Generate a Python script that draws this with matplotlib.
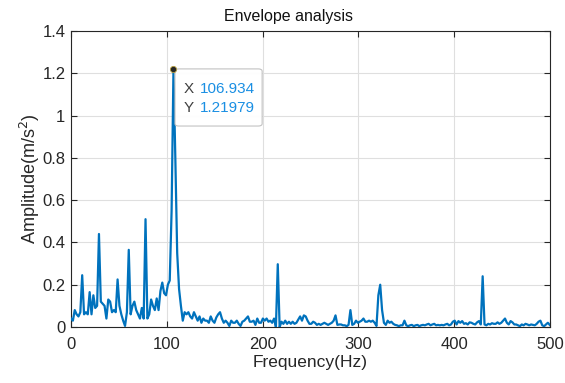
import numpy as np
import matplotlib
matplotlib.use("Agg")
import matplotlib.pyplot as plt
from matplotlib.patches import FancyBboxPatch

plt.rcParams['font.family'] = ['Liberation Sans', 'DejaVu Sans']

# ── Data ─────────────────────────────────────────────────────────────────────
PEAK_F   = 106.934
PEAK_A   = 1.21979
DF       = PEAK_F / 55          # spectral resolution, peak sits on bin 55

amplitude = [
    # 0 - 100 Hz
    0.04, 0.03, 0.08, 0.06, 0.05, 0.07, 0.245, 0.06, 0.07, 0.06,
    0.165, 0.06, 0.15, 0.09, 0.10, 0.44, 0.12, 0.11, 0.10, 0.04,
    0.13, 0.12, 0.07, 0.08, 0.07, 0.225, 0.10, 0.06, 0.03, 0.005,
    0.07, 0.365, 0.06, 0.10, 0.12, 0.08, 0.06, 0.04, 0.09, 0.04,
    0.51, 0.04, 0.06, 0.13, 0.10, 0.08, 0.135, 0.08, 0.17, 0.21,
    0.16, 0.15, 0.20, 0.22, 0.55, PEAK_A, 0.80, 0.35, 0.18, 0.10,
    # 117 - 200 Hz
    0.03, 0.07, 0.06, 0.07, 0.05, 0.04, 0.07, 0.05, 0.03, 0.05,
    0.02, 0.04, 0.03, 0.03, 0.02, 0.05, 0.03, 0.02, 0.045, 0.06,
    0.07, 0.04, 0.02, 0.03, 0.02, 0.005, 0.03, 0.02, 0.02, 0.03,
    0.015, 0.005, 0.025, 0.03, 0.04, 0.05, 0.025, 0.025, 0.03, 0.01,
    0.04, 0.02,
    # 198 - 296 Hz
    0.02, 0.04, 0.03, 0.04, 0.025, 0.03, 0.02, 0.04, 0.0, 0.297,
    0.0, 0.025, 0.015, 0.03, 0.015, 0.025, 0.015, 0.025, 0.015, 0.02,
    0.035, 0.05, 0.03, 0.055, 0.05, 0.03, 0.015, 0.015, 0.025, 0.02,
    0.01, 0.015, 0.01, 0.015, 0.02, 0.015, 0.01, 0.015, 0.02, 0.03,
    0.055, 0.01, 0.012, 0.012, 0.008, 0.008, 0.004, 0.01, 0.08, 0.01,
    0.015,
    # 297 - 395 Hz
    0.03, 0.02, 0.025, 0.03, 0.04, 0.025, 0.025, 0.03, 0.025, 0.03,
    0.02, 0.005, 0.15, 0.20, 0.08, 0.02, 0.01, 0.03, 0.02, 0.025,
    0.015, 0.01, 0.008, 0.004, 0.008, 0.008, 0.03, 0.008, 0.004, 0.008,
    0.01, 0.004, 0.008, 0.01, 0.004, 0.008, 0.01, 0.008, 0.012, 0.015,
    0.008, 0.012, 0.015, 0.008, 0.01, 0.008, 0.01, 0.008, 0.012, 0.015,
    0.008,
    # 397 - 500 Hz
    0.012, 0.025, 0.03, 0.012, 0.028, 0.02, 0.028, 0.015, 0.018, 0.012,
    0.022, 0.02, 0.015, 0.012, 0.022, 0.028, 0.012, 0.24, 0.012, 0.008,
    0.015, 0.012, 0.018, 0.015, 0.015, 0.022, 0.015, 0.02, 0.03, 0.04,
    0.02, 0.012, 0.028, 0.022, 0.012, 0.012, 0.008, 0.004, 0.012, 0.008,
    0.015, 0.012, 0.008, 0.012, 0.01, 0.008, 0.015, 0.025, 0.03, 0.008,
    0.004, 0.012, 0.02, 0.01,
]
frequency = np.arange(len(amplitude)) * DF

x_ticks = [0, 100, 200, 300, 400, 500]
y_ticks = [0, 0.2, 0.4, 0.6, 0.8, 1.0, 1.2, 1.4]
y_tick_labels = ["0", "0.2", "0.4", "0.6", "0.8", "1", "1.2", "1.4"]

# ── Figure ───────────────────────────────────────────────────────────────────
fig = plt.figure(figsize=(5.65, 3.83), dpi=100)
ax = fig.add_axes([0.1257, 0.1462, 0.8478, 0.7728])

ax.plot(frequency, amplitude, color="#0072BD", lw=1.6, zorder=3)

ax.set_xlim(0, 500)
ax.set_ylim(0, 1.4)
ax.set_xticks(x_ticks)
ax.set_yticks(y_ticks)
ax.set_yticklabels(y_tick_labels)
ax.grid(True, color="#DFDFDF", lw=0.8, zorder=0)
ax.set_axisbelow(True)
ax.tick_params(direction="in", top=True, right=True, length=4,
               width=0.8, labelsize=12, colors="#262626")
ax.tick_params(axis="x", pad=7)
ax.tick_params(axis="y", pad=4)
for s in ax.spines.values():
    s.set_color("#262626")
    s.set_linewidth(0.8)

# title sits a little left of the axes centre in the reference
fig.text(288 / 565, 1 - 21 / 383, "Envelope analysis", fontsize=11.5,
         color="#111111", ha="center", va="baseline")
ax.set_xlabel("Frequency(Hz)", fontsize=12.5, color="#262626", labelpad=2)
ax.set_ylabel("Amplitude(m/s$^2$)", fontsize=13, color="#262626", labelpad=0)

# data tip
ax.plot(PEAK_F, PEAK_A, "o", ms=4.5, color="#262626", mec="#B8A040",
        mew=0.6, zorder=5)
box = FancyBboxPatch((0.217, 0.679), 0.182, 0.193,
                     boxstyle="round,pad=0,rounding_size=0.008",
                     transform=ax.transAxes, fc="white", ec="#BFBFBF",
                     lw=0.8, alpha=0.95, zorder=4)
ax.add_patch(box)
ax.text(0.2345, 0.803, "X", transform=ax.transAxes, fontsize=11,
        color="#404040", va="center", zorder=6)
ax.text(0.268, 0.803, f"{PEAK_F:.3f}", transform=ax.transAxes, fontsize=11,
        color="#1A8FE3", va="center", zorder=6)
ax.text(0.2345, 0.739, "Y", transform=ax.transAxes, fontsize=11,
        color="#404040", va="center", zorder=6)
ax.text(0.268, 0.739, f"{PEAK_A:.5f}", transform=ax.transAxes, fontsize=11,
        color="#1A8FE3", va="center", zorder=6)

fig.savefig("out.png", dpi=100)
